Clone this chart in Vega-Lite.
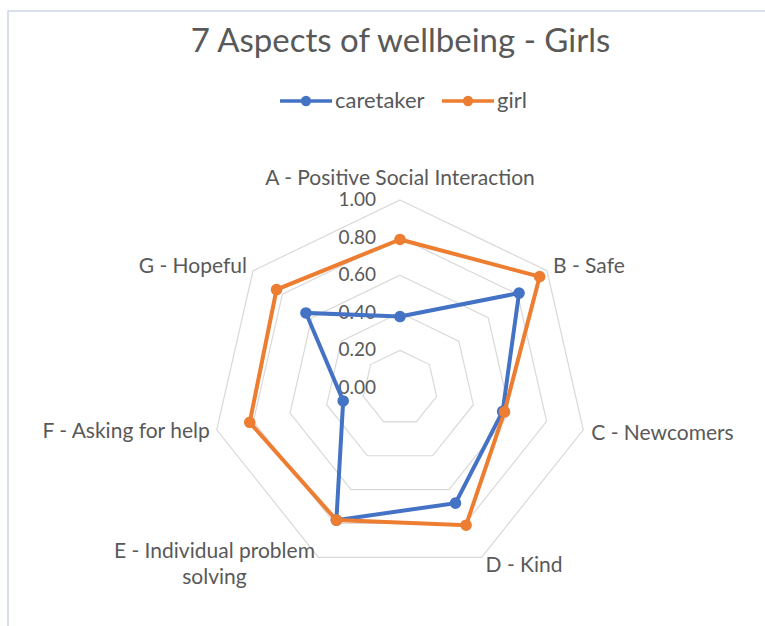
{
  "$schema": "https://vega.github.io/schema/vega-lite/v6.json",
  "width": 765,
  "height": 626,
  "autosize": {"type": "none"},
  "padding": {"left": 8, "top": 11, "right": 0, "bottom": 0},
  "background": "white",
  "config": {
    "view": {"stroke": "#CDD3EA", "strokeWidth": 1.5},
    "font": "Lato",
    "text": {"font": "Lato", "fontSize": 21, "color": "#595959"}
  },
  "title": {
    "text": "7 Aspects of wellbeing - Girls",
    "font": "Lato",
    "fontSize": 33,
    "fontWeight": "normal",
    "color": "#595959",
    "anchor": "middle",
    "frame": "group",
    "baseline": "alphabetic",
    "offset": -74,
    "dx": 10
  },
  "datasets": {
    "scores": [
      {"series": "caretaker", "aspect": "A", "idx": 0, "value": 0.38},
      {"series": "caretaker", "aspect": "B", "idx": 1, "value": 0.81},
      {"series": "caretaker", "aspect": "C", "idx": 2, "value": 0.56},
      {"series": "caretaker", "aspect": "D", "idx": 3, "value": 0.68},
      {"series": "caretaker", "aspect": "E", "idx": 4, "value": 0.78},
      {"series": "caretaker", "aspect": "F", "idx": 5, "value": 0.31},
      {"series": "caretaker", "aspect": "G", "idx": 6, "value": 0.64},
      {"series": "girl", "aspect": "A", "idx": 0, "value": 0.79},
      {"series": "girl", "aspect": "B", "idx": 1, "value": 0.95},
      {"series": "girl", "aspect": "C", "idx": 2, "value": 0.57},
      {"series": "girl", "aspect": "D", "idx": 3, "value": 0.81},
      {"series": "girl", "aspect": "E", "idx": 4, "value": 0.78},
      {"series": "girl", "aspect": "F", "idx": 5, "value": 0.82},
      {"series": "girl", "aspect": "G", "idx": 6, "value": 0.84}
    ],
    "rings": [
      {"level": 0.2, "idx": [0, 1, 2, 3, 4, 5, 6]},
      {"level": 0.4, "idx": [0, 1, 2, 3, 4, 5, 6]},
      {"level": 0.6, "idx": [0, 1, 2, 3, 4, 5, 6]},
      {"level": 0.8, "idx": [0, 1, 2, 3, 4, 5, 6]},
      {"level": 1.0, "idx": [0, 1, 2, 3, 4, 5, 6]}
    ],
    "ticks": [
      {"level": 0.0}, {"level": 0.2}, {"level": 0.4}, {"level": 0.6}, {"level": 0.8}, {"level": 1.0}
    ],
    "aspects": [
      {"idx": 0, "label": "A - Positive Social Interaction"},
      {"idx": 1, "label": "B - Safe"},
      {"idx": 2, "label": "C - Newcomers"},
      {"idx": 3, "label": "D - Kind"},
      {"idx": 4, "label": ["E - Individual problem", "solving"]},
      {"idx": 5, "label": "F - Asking for help"},
      {"idx": 6, "label": "G - Hopeful"}
    ]
  },
  "layer": [
    {
      "data": {"name": "rings"},
      "transform": [
        {"flatten": ["idx"]},
        {"calculate": "datum.idx * 2 * PI / 7", "as": "angle"},
        {"calculate": "datum.level * sin(datum.angle)", "as": "x"},
        {"calculate": "datum.level * cos(datum.angle)", "as": "y"}
      ],
      "mark": {"type": "line", "interpolate": "linear-closed", "stroke": "#D9D9D9", "strokeWidth": 1.2},
      "encoding": {
        "x": {"field": "x", "type": "quantitative", "scale": {"domain": [-2.0851, 1.9840]}, "axis": null},
        "y": {"field": "y", "type": "quantitative", "scale": {"domain": [-1.32447, 2.00532]}, "axis": null},
        "detail": {"field": "level"},
        "order": {"field": "idx"}
      }
    },
    {
      "data": {"name": "ticks"},
      "mark": {"type": "text", "align": "right", "baseline": "middle", "dx": -24, "fontSize": 19, "color": "#595959"},
      "encoding": {
        "x": {"datum": 0, "type": "quantitative", "scale": {"domain": [-2.0851, 1.9840]}, "axis": null},
        "y": {"field": "level", "type": "quantitative", "scale": {"domain": [-1.32447, 2.00532]}, "axis": null},
        "text": {"field": "level", "type": "quantitative", "format": ".2f"}
      }
    },
    {
      "data": {"name": "scores"},
      "transform": [
        {"calculate": "datum.idx * 2 * PI / 7", "as": "angle"},
        {"calculate": "datum.value * sin(datum.angle)", "as": "x"},
        {"calculate": "datum.value * cos(datum.angle)", "as": "y"}
      ],
      "mark": {"type": "line", "interpolate": "linear-closed", "strokeWidth": 4, "point": {"filled": true, "size": 135, "opacity": 1}},
      "encoding": {
        "x": {"field": "x", "type": "quantitative", "scale": {"domain": [-2.0851, 1.9840]}, "axis": null},
        "y": {"field": "y", "type": "quantitative", "scale": {"domain": [-1.32447, 2.00532]}, "axis": null},
        "order": {"field": "idx"},
        "color": {
          "field": "series",
          "type": "nominal",
          "scale": {"domain": ["caretaker", "girl"], "range": ["#4472C4", "#ED7D31"]},
          "legend": {
            "title": null,
            "orient": "none",
            "direction": "horizontal",
            "legendX": 270,
            "legendY": 62,
            "symbolType": "M-1,0L1,0M-0.13,0A0.13,0.13,0,1,0,0.13,0A0.13,0.13,0,1,0,-0.13,0",
            "symbolSize": 2704,
            "symbolStrokeWidth": 3.5,
            "labelFont": "Lato",
            "labelFontSize": 22,
            "labelColor": "#595959",
            "labelOffset": 1,
            "columnPadding": 10
          }
        }
      }
    },
    {
      "data": {"name": "aspects"},
      "transform": [
        {"filter": "datum.idx == 0"},
        {"calculate": "datum.idx * 2 * PI / 7", "as": "angle"},
        {"calculate": "sin(datum.angle)", "as": "x"},
        {"calculate": "cos(datum.angle)", "as": "y"}
      ],
      "mark": {"type": "text", "align": "center", "baseline": "alphabetic", "dy": -15},
      "encoding": {
        "x": {"field": "x", "type": "quantitative", "scale": {"domain": [-2.0851, 1.9840]}, "axis": null},
        "y": {"field": "y", "type": "quantitative", "scale": {"domain": [-1.32447, 2.00532]}, "axis": null},
        "text": {"field": "label"}
      }
    },
    {
      "data": {"name": "aspects"},
      "transform": [
        {"filter": "datum.idx == 1"},
        {"calculate": "datum.idx * 2 * PI / 7", "as": "angle"},
        {"calculate": "sin(datum.angle)", "as": "x"},
        {"calculate": "cos(datum.angle)", "as": "y"}
      ],
      "mark": {"type": "text", "align": "left", "baseline": "alphabetic", "dx": 6, "dy": 2},
      "encoding": {
        "x": {"field": "x", "type": "quantitative", "scale": {"domain": [-2.0851, 1.9840]}, "axis": null},
        "y": {"field": "y", "type": "quantitative", "scale": {"domain": [-1.32447, 2.00532]}, "axis": null},
        "text": {"field": "label"}
      }
    },
    {
      "data": {"name": "aspects"},
      "transform": [
        {"filter": "datum.idx == 2"},
        {"calculate": "datum.idx * 2 * PI / 7", "as": "angle"},
        {"calculate": "sin(datum.angle)", "as": "x"},
        {"calculate": "cos(datum.angle)", "as": "y"}
      ],
      "mark": {"type": "text", "align": "left", "baseline": "alphabetic", "dx": 8, "dy": 10},
      "encoding": {
        "x": {"field": "x", "type": "quantitative", "scale": {"domain": [-2.0851, 1.9840]}, "axis": null},
        "y": {"field": "y", "type": "quantitative", "scale": {"domain": [-1.32447, 2.00532]}, "axis": null},
        "text": {"field": "label"}
      }
    },
    {
      "data": {"name": "aspects"},
      "transform": [
        {"filter": "datum.idx == 3"},
        {"calculate": "datum.idx * 2 * PI / 7", "as": "angle"},
        {"calculate": "sin(datum.angle)", "as": "x"},
        {"calculate": "cos(datum.angle)", "as": "y"}
      ],
      "mark": {"type": "text", "align": "left", "baseline": "alphabetic", "dx": 4, "dy": 15},
      "encoding": {
        "x": {"field": "x", "type": "quantitative", "scale": {"domain": [-2.0851, 1.9840]}, "axis": null},
        "y": {"field": "y", "type": "quantitative", "scale": {"domain": [-1.32447, 2.00532]}, "axis": null},
        "text": {"field": "label"}
      }
    },
    {
      "data": {"name": "aspects"},
      "transform": [
        {"filter": "datum.idx == 4"},
        {"calculate": "datum.idx * 2 * PI / 7", "as": "angle"},
        {"calculate": "sin(datum.angle)", "as": "x"},
        {"calculate": "cos(datum.angle)", "as": "y"}
      ],
      "mark": {"type": "text", "align": "center", "baseline": "alphabetic", "dx": -104, "dy": 1, "lineHeight": 26},
      "encoding": {
        "x": {"field": "x", "type": "quantitative", "scale": {"domain": [-2.0851, 1.9840]}, "axis": null},
        "y": {"field": "y", "type": "quantitative", "scale": {"domain": [-1.32447, 2.00532]}, "axis": null},
        "text": {"field": "label"}
      }
    },
    {
      "data": {"name": "aspects"},
      "transform": [
        {"filter": "datum.idx == 5"},
        {"calculate": "datum.idx * 2 * PI / 7", "as": "angle"},
        {"calculate": "sin(datum.angle)", "as": "x"},
        {"calculate": "cos(datum.angle)", "as": "y"}
      ],
      "mark": {"type": "text", "align": "right", "baseline": "alphabetic", "dx": -7, "dy": 8},
      "encoding": {
        "x": {"field": "x", "type": "quantitative", "scale": {"domain": [-2.0851, 1.9840]}, "axis": null},
        "y": {"field": "y", "type": "quantitative", "scale": {"domain": [-1.32447, 2.00532]}, "axis": null},
        "text": {"field": "label"}
      }
    },
    {
      "data": {"name": "aspects"},
      "transform": [
        {"filter": "datum.idx == 6"},
        {"calculate": "datum.idx * 2 * PI / 7", "as": "angle"},
        {"calculate": "sin(datum.angle)", "as": "x"},
        {"calculate": "cos(datum.angle)", "as": "y"}
      ],
      "mark": {"type": "text", "align": "right", "baseline": "alphabetic", "dx": -6, "dy": 2},
      "encoding": {
        "x": {"field": "x", "type": "quantitative", "scale": {"domain": [-2.0851, 1.9840]}, "axis": null},
        "y": {"field": "y", "type": "quantitative", "scale": {"domain": [-1.32447, 2.00532]}, "axis": null},
        "text": {"field": "label"}
      }
    }
  ]
}
